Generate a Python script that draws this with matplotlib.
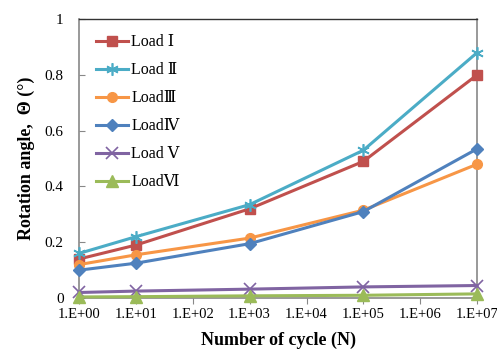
import matplotlib
matplotlib.use("Agg")
import matplotlib.pyplot as plt
from matplotlib.ticker import FixedLocator, FixedFormatter

cycles = [1, 10, 1e3, 1e5, 1e7]
load1 = [0.14, 0.19, 0.32, 0.49, 0.80]
load2 = [0.16, 0.22, 0.335, 0.53, 0.88]
load3 = [0.12, 0.155, 0.215, 0.315, 0.48]
load4 = [0.10, 0.125, 0.195, 0.31, 0.535]
load5 = [0.02, 0.025, 0.032, 0.04, 0.045]
load6 = [0.004, 0.005, 0.008, 0.01, 0.015]
labels = ["Load Ⅰ", "Load Ⅱ", "LoadⅢ", "LoadⅣ", "Load Ⅴ", "LoadⅥ"]
xtick_vals = [1, 10, 1e2, 1e3, 1e4, 1e5, 1e6, 1e7]
xtick_labels = ["1.E+00", "1.E+01", "1.E+02", "1.E+03", "1.E+04", "1.E+05", "1.E+06", "1.E+07"]
ytick_vals = [0, 0.2, 0.4, 0.6, 0.8, 1.0]
ytick_labels = ["0", "0.2", "0.4", "0.6", "0.8", "1"]

series = [load1, load2, load3, load4, load5, load6]
colors = ["#C0504D", "#4BACC6", "#F79646", "#4F81BD", "#8064A2", "#9BBB59"]
markers = ["s", (6, 2, 0), "o", "D", "x", "^"]
msizes = [7, 9, 7, 6, 8, 8]

serif = ["Liberation Serif", "DejaVu Serif"]
legfam = ["Liberation Serif", "DejaVu Serif", "Noto Sans CJK SC"]

fig = plt.figure(figsize=(4.97, 3.54), dpi=100)
ax = fig.add_axes([0.159, 0.158, 0.801, 0.788])
for s, c, m, ms, lab in zip(series, colors, markers, msizes, labels):
    mew = 1.2 if m in ("x",) or isinstance(m, tuple) else 1
    ax.plot(cycles, s, color=c, lw=2.2, marker=m, ms=ms, mec=c, mfc=c, mew=mew, label=lab, clip_on=False, zorder=3)

ax.set_xscale("log")
ax.set_xlim(1, 1e7)
ax.set_ylim(0, 1)
ax.xaxis.set_major_locator(FixedLocator(xtick_vals))
ax.xaxis.set_major_formatter(FixedFormatter(xtick_labels))
ax.xaxis.set_minor_locator(FixedLocator([]))
ax.yaxis.set_major_locator(FixedLocator(ytick_vals))
ax.yaxis.set_major_formatter(FixedFormatter(ytick_labels))
ax.tick_params(axis="x", direction="out", length=4, color="#888888", labelsize=10.5, pad=3)
ax.tick_params(axis="y", direction="in", length=4, color="#888888", labelsize=11, pad=11)
for lbl in ax.get_xticklabels() + ax.get_yticklabels():
    lbl.set_family(serif)

for sp in ["left", "right", "bottom"]:
    ax.spines[sp].set_color("#888888")
    ax.spines[sp].set_linewidth(1.2)
ax.spines["top"].set_color("#333333")
ax.spines["top"].set_linewidth(1)

ax.set_xlabel("Number of cycle (N)", family=serif, fontsize=13, fontweight="bold", labelpad=8)
ax.set_ylabel("Rotation angle,  Θ (°)", family=serif, fontsize=13, fontweight="bold", labelpad=7)

leg = ax.legend(loc="upper left", bbox_to_anchor=(0.015, 0.985), frameon=False,
                prop={"family": legfam, "size": 11.5}, handlelength=2.0, handletextpad=0.2,
                labelspacing=0.75, borderaxespad=0.3)

fig.savefig("out.png", dpi=100)
